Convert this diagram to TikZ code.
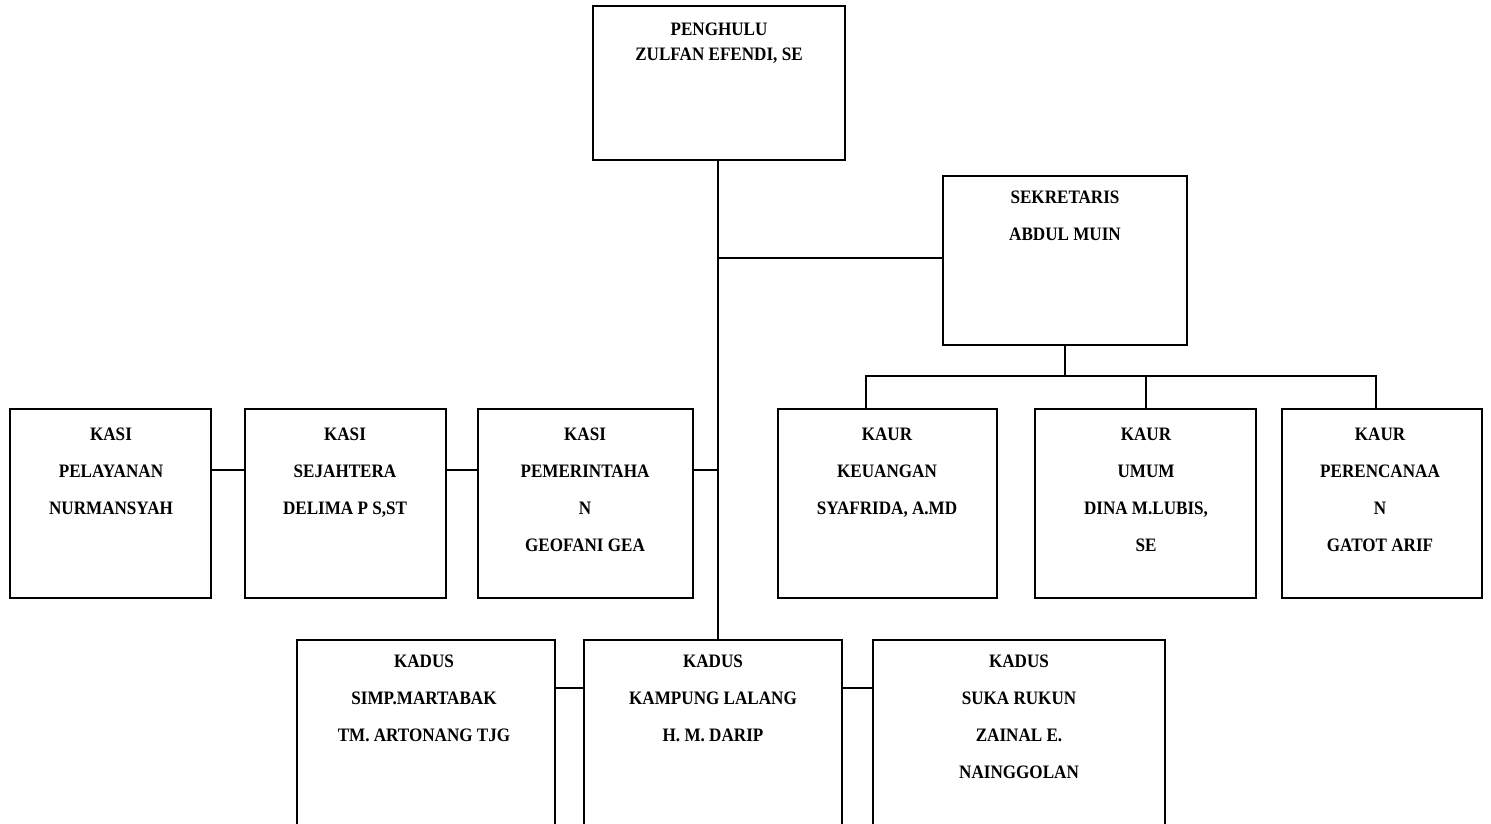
\documentclass[tikz,border=0pt]{standalone}
\usepackage{fontspec}
\setmainfont{Liberation Serif}[FakeStretch=0.9]
\begin{document}
\begin{tikzpicture}[x=0.5pt,y=-0.5pt,
  box/.style={draw,line width=1pt,rectangle},
  txt/.style={anchor=north,inner sep=0pt,align=center,font=\fontsize{9.5}{18.4}\selectfont\bfseries},
  txtb/.style={anchor=north,inner sep=0pt,align=center,font=\fontsize{9.5}{12.5}\selectfont\bfseries},
  link/.style={line width=1pt}]
\useasboundingbox (0,0) rectangle (1491,823);
\clip (0,0) rectangle (1491,823);
% boxes
\draw[box] (593,6) rectangle (845,160);
\node[txtb] (pentxt) at (719,23) {PENGHULU\\ZULFAN EFENDI, SE};

\draw[box] (943,176) rectangle (1187,345);
\coordinate (sekL) at (943,258);
\coordinate (sekB) at (1065,345);
\node[txt] (sektxt) at (1065,191) {SEKRETARIS\\ABDUL MUIN};

% Kasi
\draw[box] (10,409) rectangle (211,598);
\node[txt] (k1) at (111,428) {KASI\\PELAYANAN\\NURMANSYAH};
\draw[box] (245,409) rectangle (446,598);
\node[txt] (k2) at (345,428) {KASI\\SEJAHTERA\\DELIMA P S,ST};
\draw[box] (478,409) rectangle (693,598);
\node[txt] (k3) at (585,428) {KASI\\PEMERINTAHA\\N\\GEOFANI GEA};

% Kaur
\draw[box] (778,409) rectangle (997,598);
\node[txt] (u1) at (887,428) {KAUR\\KEUANGAN\\SYAFRIDA, A.MD};
\draw[box] (1035,409) rectangle (1256,598);
\node[txt] (u2) at (1146,428) {KAUR\\UMUM\\DINA M.LUBIS,\\SE};
\draw[box] (1282,409) rectangle (1482,598);
\node[txt] (u3) at (1380,428) {KAUR\\PERENCANAA\\N\\GATOT ARIF};

% Kadus
\draw[box] (297,640) rectangle (555,900);
\node[txt] (d1) at (424,655) {KADUS\\SIMP.MARTABAK\\TM. ARTONANG TJG};
\draw[box] (584,640) rectangle (842,900);
\node[txt] (d2) at (713,655) {KADUS\\KAMPUNG LALANG\\H. M. DARIP};
\draw[box] (873,640) rectangle (1165,900);
\node[txt] (d3) at (1019,655) {KADUS\\SUKA RUKUN\\ZAINAL E.\\NAINGGOLAN};

% connectors
\coordinate (trunkTop) at (718,160);
\coordinate (trunkSek) at (718,258);
\coordinate (trunkKasi) at (718,470);
\coordinate (trunkBot) at (718,640);
\draw[link] (trunkTop) -- (trunkBot);
\draw[link] (trunkSek) -- (sekL);
\draw[link] (trunkKasi) -- (693,470);
\draw[link] (446,470) -- (478,470);
\draw[link] (211,470) -- (245,470);
\draw[link] (sekB) -- (1065,376);
\draw[link] (866,409) -- (866,376) -- (1376,376) -- (1376,409);
\draw[link] (1146,376) -- (1146,409);
\draw[link] (555,688) -- (584,688);
\draw[link] (842,688) -- (873,688);
\end{tikzpicture}
\end{document}
